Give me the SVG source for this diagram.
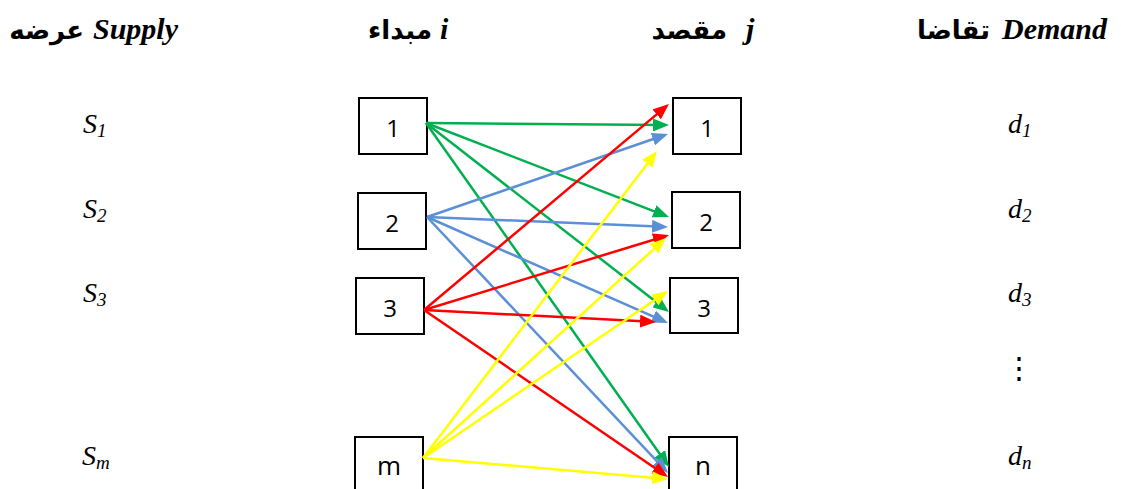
<svg xmlns="http://www.w3.org/2000/svg" width="1121" height="489" viewBox="0 0 1121 489">
  <style>
    .hdr-ar { font-weight: bold; font-size: 26px; fill: #000; }
    .hdr-lt { font-weight: bold; font-style: italic; font-size: 30px; fill: #000; }
    .lbl { font-style: italic; font-size: 28px; fill: #000; }
    .sub { font-size: 19px; }
    .dots { font-size: 30px; fill: #000; text-anchor: middle; }
    .box { fill: #fff; stroke: #000; stroke-width: 2; }
    .num { font-size: 24px; fill: #000; text-anchor: middle; }
    .let { font-size: 26px; }
    .edge { fill: none; stroke-width: 2.5; }
    .g { stroke: #00B050; }
    .b { stroke: #5B8FD6; }
    .r { stroke: #FF0000; }
    .y { stroke: #FFFF00; }
  </style>
  <defs>
    <marker id="ah-g" markerUnits="userSpaceOnUse" markerWidth="16" markerHeight="13" refX="12" refY="6.5" orient="auto"><path d="M0,0 L16,6.5 L0,13 z" fill="#00B050"/></marker>
    <marker id="ah-b" markerUnits="userSpaceOnUse" markerWidth="16" markerHeight="13" refX="12" refY="6.5" orient="auto"><path d="M0,0 L16,6.5 L0,13 z" fill="#5B8FD6"/></marker>
    <marker id="ah-r" markerUnits="userSpaceOnUse" markerWidth="16" markerHeight="13" refX="12" refY="6.5" orient="auto"><path d="M0,0 L16,6.5 L0,13 z" fill="#FF0000"/></marker>
    <marker id="ah-y" markerUnits="userSpaceOnUse" markerWidth="16" markerHeight="13" refX="12" refY="6.5" orient="auto"><path d="M0,0 L16,6.5 L0,13 z" fill="#FFFF00"/></marker>
  </defs>

  <rect width="1121" height="489" fill="#fff"/>

  <!-- column headings -->
  <g id="headings" font-family="Liberation Serif, DejaVu Sans, serif">
    <text class="hdr-ar" x="84" y="39" text-anchor="end">عرضه</text>
    <text class="hdr-lt" x="93" y="39">Supply</text>
    <text class="hdr-ar" x="432" y="39" text-anchor="end">مبداء</text>
    <text class="hdr-lt" x="440" y="39">i</text>
    <text class="hdr-ar" x="727" y="39" text-anchor="end">مقصد</text>
    <text class="hdr-lt" x="746" y="39">j</text>
    <text class="hdr-ar" x="990" y="39" text-anchor="end">تقاضا</text>
    <text class="hdr-lt" x="1002" y="39">Demand</text>
  </g>

  <!-- supply quantities -->
  <g id="supply" font-family="Liberation Serif, serif">
    <text class="lbl" x="83" y="133">S<tspan class="sub" dy="4">1</tspan></text>
    <text class="lbl" x="83" y="218">S<tspan class="sub" dy="4">2</tspan></text>
    <text class="lbl" x="83" y="302">S<tspan class="sub" dy="4">3</tspan></text>
    <text class="lbl" x="82" y="465">S<tspan class="sub" dy="4">m</tspan></text>
  </g>

  <!-- demand quantities -->
  <g id="demand" font-family="Liberation Serif, serif">
    <text class="lbl" x="1008" y="133">d<tspan class="sub" dy="4">1</tspan></text>
    <text class="lbl" x="1008" y="218">d<tspan class="sub" dy="4">2</tspan></text>
    <text class="lbl" x="1008" y="302">d<tspan class="sub" dy="4">3</tspan></text>
    <text class="dots" x="1019" y="378" font-family="DejaVu Serif, serif">⋮</text>
    <text class="lbl" x="1008" y="465">d<tspan class="sub" dy="4">n</tspan></text>
  </g>

  <g font-family="Open Sans, Liberation Sans, sans-serif">
    <!-- origins -->
    <g id="origin-1"><rect class="box" x="359" y="98" width="68" height="56"/><text class="num" x="393" y="137">1</text></g>
    <g id="origin-2"><rect class="box" x="358" y="193" width="68" height="56"/><text class="num" x="392" y="232">2</text></g>
    <g id="origin-3"><rect class="box" x="356" y="278" width="68" height="56"/><text class="num" x="390" y="317">3</text></g>
    <g id="origin-m"><rect class="box" x="355" y="437" width="68" height="60"/><text class="num let" x="389" y="475">m</text></g>

    <!-- destinations -->
    <g id="dest-1"><rect class="box" x="673" y="98" width="68" height="56"/><text class="num" x="707" y="137">1</text></g>
    <g id="dest-2"><rect class="box" x="672" y="192" width="68" height="56"/><text class="num" x="706" y="231">2</text></g>
    <g id="dest-3"><rect class="box" x="670" y="278" width="68" height="55"/><text class="num" x="704" y="317">3</text></g>
    <g id="dest-n"><rect class="box" x="669" y="437" width="68" height="60"/><text class="num let" x="703" y="475">n</text></g>
  </g>

  <!-- shipment routes -->
  <g id="connectors">
    <line class="edge g" x1="426" y1="123" x2="665" y2="125" marker-end="url(#ah-g)"/>
    <line class="edge g" x1="426" y1="123" x2="665.3" y2="215.6" marker-end="url(#ah-g)"/>
    <line class="edge g" x1="426" y1="123" x2="665.8" y2="309.5" marker-end="url(#ah-g)"/>
    <line class="edge g" x1="426" y1="123" x2="666.7" y2="463.7" marker-end="url(#ah-g)"/>

    <line class="edge b" x1="427" y1="217" x2="664.2" y2="135.3" marker-end="url(#ah-b)"/>
    <line class="edge b" x1="427" y1="217" x2="664" y2="226.8" marker-end="url(#ah-b)"/>
    <line class="edge b" x1="427" y1="217" x2="664.3" y2="321.4" marker-end="url(#ah-b)"/>
    <line class="edge b" x1="427" y1="217" x2="665.3" y2="470.1" marker-end="url(#ah-b)"/>

    <line class="edge r" x1="424" y1="310" x2="665.9" y2="106.6" marker-end="url(#ah-r)"/>
    <line class="edge r" x1="424" y1="310" x2="665.2" y2="236.2" marker-end="url(#ah-r)"/>
    <line class="edge r" x1="424" y1="310" x2="652" y2="321.8" marker-end="url(#ah-r)"/>
    <line class="edge r" x1="424" y1="310" x2="664.7" y2="474.7" marker-end="url(#ah-r)"/>

    <line class="edge y" x1="423" y1="458" x2="654.6" y2="154.2" marker-end="url(#ah-y)"/>
    <line class="edge y" x1="423" y1="458" x2="663" y2="240.7" marker-end="url(#ah-y)"/>
    <line class="edge y" x1="423" y1="458" x2="664.7" y2="293.3" marker-end="url(#ah-y)"/>
    <line class="edge y" x1="423" y1="458" x2="664" y2="478.7" marker-end="url(#ah-y)"/>
  </g>
</svg>
